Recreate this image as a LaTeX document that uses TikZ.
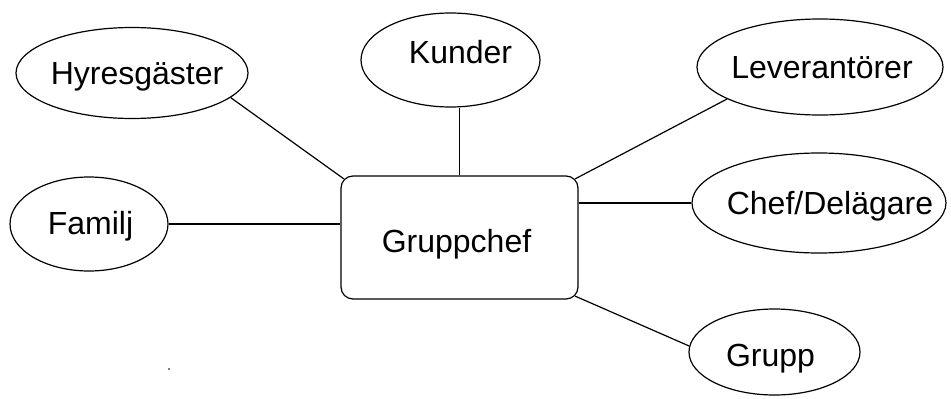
\documentclass[tikz,border=0pt]{standalone}
\usepackage{fontspec}
\setmainfont{Liberation Sans}
\usetikzlibrary{shapes.geometric}
\newcommand{\ctext}[1]{\makebox[0pt][c]{#1}}
\begin{document}
\begin{tikzpicture}[x=1pt,y=-1pt,
  role/.style={ellipse,draw,line width=1.2pt,inner sep=0pt,text depth=0pt,text height=23pt,
    font=\fontsize{32}{38}\selectfont},
  chief/.style={rectangle,draw,line width=1.2pt,rounded corners=12pt,inner sep=0pt,text depth=0pt,
    minimum width=237pt,minimum height=123pt,font=\fontsize{32}{38}\selectfont},
  link/.style={line width=1.2pt}]
\useasboundingbox (0,0) rectangle (951,399);
\node[chief,text height=29pt] (box) at (459.5,237.5) {\ctext{Gruppchef\hspace*{6pt}}};
\node[role,minimum width=232pt,minimum height=91pt] (hyr) at (132,73) {\ctext{\hspace*{10pt}Hyresgäster}};
\node[role,minimum width=179pt,minimum height=94pt,text height=7pt] (kun) at (450.5,60) {\ctext{\hspace*{20pt}Kunder}};
\node[role,minimum width=246pt,minimum height=96pt] (lev) at (820,67) {\ctext{\hspace*{4pt}Leverantörer}};
\node[role,minimum width=158pt,minimum height=94pt,text height=20pt] (fam) at (89,224) {\ctext{\hspace*{3pt}Familj}};
\node[role,minimum width=254pt,minimum height=100pt] (che) at (819,203) {\ctext{\hspace*{22pt}Chef/Delägare}};
\node[role,minimum width=171pt,minimum height=86pt,text height=29pt] (grp) at (774.5,352) {\ctext{Grupp\hspace*{8pt}}};
\draw[link] (hyr.-14) -- ([shift={(3.5pt,-3.5pt)}]box.north west);
\draw[link] (box.north) -- (box.north |- kun.south);
\draw[link] (lev.199) -- ([shift={(-3.5pt,-3.5pt)}]box.north east);
\draw[link] (fam.east) -- (fam.east -| box.west);
\draw[link] (che.west) -- (che.west -| box.east);
\draw[link] ([shift={(-3.5pt,3.5pt)}]box.south east) -- (grp.176);
\fill (169,369) circle (0.8pt);
\end{tikzpicture}
\end{document}
